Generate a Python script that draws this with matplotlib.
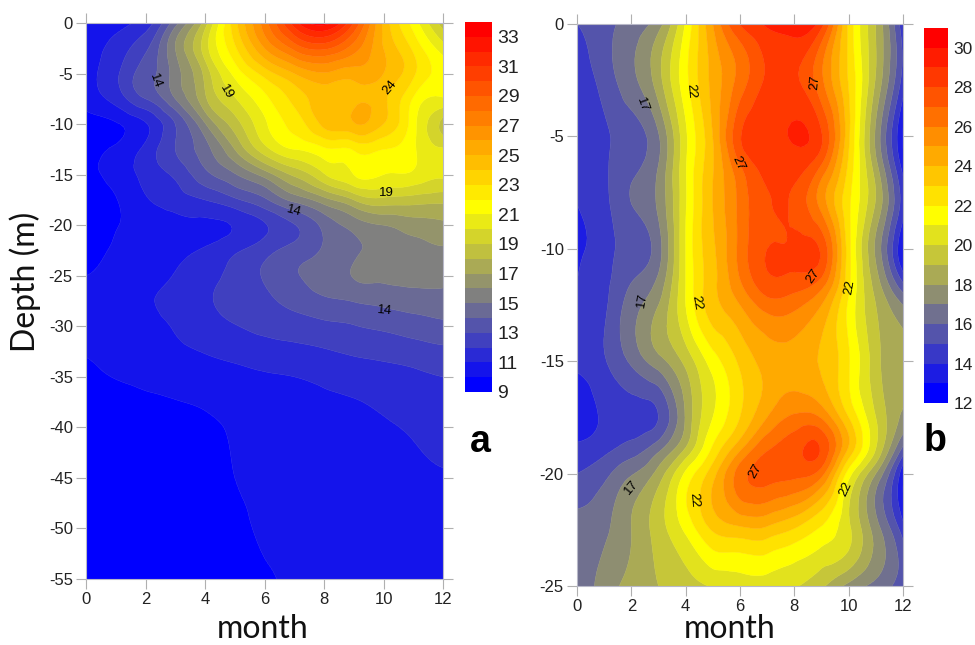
import numpy as np
import matplotlib
matplotlib.use("Agg")
import matplotlib.pyplot as plt
import matplotlib.tri as mtri
from matplotlib.colors import LinearSegmentedColormap

plt.rcParams['font.family'] = ['Liberation Sans', 'DejaVu Sans']
plt.rcParams['axes.unicode_minus'] = False

months = [0, 1, 2, 3, 4, 5, 6, 7, 8, 9, 10, 11, 12]

# panel a, temperature, one row per depth
depth_a = [0, -2.5, -5, -7.5, -10, -12.5, -15, -17.5, -20, -22.5, -25, -27.5,
           -30, -32.5, -35, -37.5, -40, -45, -50, -55]
temp_a = [
    [10.1, 10.6, 11.5, 14.6, 18.5, 23.6, 27.5, 31.5, 33.4, 30.0, 24.8, 21.6, 18.5],
    [10.4, 11.4, 12.8, 16.0, 19.5, 22.8, 26.0, 28.3, 29.2, 27.5, 25.0, 22.8, 20.5],
    [10.6, 11.8, 13.5, 15.5, 18.3, 21.3, 23.4, 25.0, 25.9, 25.5, 25.0, 23.2, 21.5],
    [10.3, 11.4, 13.0, 15.0, 17.8, 19.9, 21.7, 23.3, 24.5, 24.6, 24.2, 21.9, 20.9],
    [9.8, 9.9, 10.9, 13.0, 15.9, 18.5, 20.8, 22.4, 24.3, 24.9, 24.0, 21.4, 18.6],
    [9.7, 10.2, 11.3, 13.0, 14.6, 17.0, 19.6, 21.0, 21.8, 22.1, 22.0, 21.2, 20.1],
    [9.7, 10.4, 11.3, 12.2, 13.7, 14.9, 16.4, 18.2, 19.9, 21.0, 21.0, 20.8, 20.2],
    [9.6, 9.95, 10.9, 11.5, 12.0, 12.8, 13.8, 15.3, 16.6, 18.0, 18.7, 18.5, 18.3],
    [9.6, 9.95, 10.3, 10.6, 10.8, 11.1, 11.9, 12.95, 14.3, 15.4, 16.0, 16.5, 16.8],
    [9.8, 10.1, 10.4, 10.7, 11.1, 11.8, 12.6, 13.4, 14.15, 14.8, 15.3, 15.6, 15.85],
    [10.0, 10.3, 10.75, 11.05, 11.65, 12.35, 13.1, 13.9, 14.5, 15.05, 15.2, 15.3, 15.3],
    [10.3, 10.55, 10.9, 11.25, 11.85, 12.35, 12.75, 13.35, 13.8, 14.05, 14.3, 14.5, 14.6],
    [10.25, 10.45, 10.75, 11.07, 11.55, 11.95, 12.3, 12.5, 12.75, 12.95, 13.2, 13.5, 13.75],
    [10.05, 10.25, 10.5, 10.8, 11.05, 11.3, 11.5, 11.7, 11.9, 12.15, 12.3, 12.5, 12.75],
    [9.8, 10.03, 10.2, 10.35, 10.5, 10.7, 10.9, 11.0, 11.2, 11.4, 11.6, 11.8, 12.0],
    [9.6, 9.7, 9.85, 9.97, 10.1, 10.3, 10.5, 10.65, 10.8, 10.95, 11.15, 11.4, 11.6],
    [9.4, 9.5, 9.6, 9.72, 9.85, 10.1, 10.3, 10.4, 10.5, 10.7, 10.9, 11.1, 11.4],
    [9.2, 9.25, 9.3, 9.4, 9.7, 10.0, 10.15, 10.3, 10.4, 10.5, 10.6, 10.8, 10.9],
    [9.1, 9.15, 9.2, 9.3, 9.5, 9.8, 10.1, 10.2, 10.25, 10.3, 10.4, 10.5, 10.5],
    [9.1, 9.1, 9.1, 9.2, 9.3, 9.6, 9.9, 10.1, 10.15, 10.2, 10.25, 10.3, 10.3],
]

# panel b
depth_b = [0, -2.5, -5, -6.25, -8, -10, -11.5, -12.5, -15, -17.5, -19, -20, -22.5, -25]
temp_b = [
    [15.0, 15.6, 16.4, 17.6, 21.1, 25.0, 28.1, 29.15, 29.6, 28.4, 22.8, 19.0, 14.3],
    [14.3, 15.4, 16.7, 18.6, 21.7, 24.3, 26.4, 28.2, 28.2, 26.2, 22.9, 18.9, 14.6],
    [14.0, 14.8, 15.6, 16.9, 20.8, 24.0, 27.9, 28.9, 29.1, 28.1, 23.2, 17.8, 12.9],
    [14.0, 14.8, 15.8, 17.0, 20.9, 23.9, 27.0, 28.4, 28.5, 27.0, 22.8, 18.3, 13.5],
    [14.0, 14.7, 16.0, 17.2, 20.9, 24.0, 26.3, 27.9, 27.8, 25.6, 22.2, 18.9, 14.5],
    [13.9, 14.5, 15.5, 16.6, 21.0, 23.8, 26.3, 28.0, 28.2, 27.8, 22.4, 17.8, 13.0],
    [14.0, 14.7, 16.0, 17.3, 21.0, 23.7, 25.9, 27.7, 27.6, 26.6, 22.3, 18.5, 15.0],
    [14.1, 14.8, 16.5, 18.0, 21.0, 23.6, 25.0, 26.5, 26.3, 25.0, 21.8, 19.0, 17.0],
    [14.2, 14.9, 16.2, 17.6, 19.3, 21.5, 23.2, 24.4, 24.6, 23.9, 22.1, 19.4, 18.3],
    [13.5, 14.2, 14.6, 15.0, 18.1, 21.0, 23.0, 25.0, 26.2, 25.9, 23.0, 20.0, 17.8],
    [14.3, 14.8, 15.55, 16.9, 19.3, 22.3, 25.0, 27.0, 27.7, 27.9, 23.7, 19.9, 15.5],
    [15.0, 15.7, 16.9, 18.4, 21.2, 23.6, 26.5, 27.4, 27.3, 26.4, 21.5, 18.0, 13.3],
    [16.3, 16.8, 18.0, 19.5, 21.2, 23.1, 23.7, 23.7, 22.9, 21.8, 20.2, 17.5, 14.5],
    [16.0, 17.5, 18.3, 19.0, 19.6, 20.1, 20.5, 20.5, 20.1, 19.2, 17.7, 16.7, 15.5],
]

levels_a = list(range(9, 35))
levels_b = list(range(12, 32))
cbar_ticks_a = [9, 11, 13, 15, 17, 19, 21, 23, 25, 27, 29, 31, 33]
cbar_ticks_b = [12, 14, 16, 18, 20, 22, 24, 26, 28, 30]
yticks_a = [0, -5, -10, -15, -20, -25, -30, -35, -40, -45, -50, -55]
yticks_b = [0, -5, -10, -15, -20, -25]
xticks = [0, 2, 4, 6, 8, 10, 12]

# inline labels: text, month, depth, rotation
labels_a = [("14", 2.33, -5.7, -70), ("19", 4.72, -6.8, -60), ("24", 10.2, -6.4, 50),
            ("19", 10.1, -16.8, 0), ("14", 7.0, -18.6, -15), ("14", 10.05, -28.5, -5)]
labels_b = [("17", 2.4, -3.6, -70), ("22", 4.2, -3.0, -85), ("27", 8.75, -2.6, 85),
            ("27", 5.95, -6.2, -65), ("17", 2.4, -12.3, 80), ("22", 4.4, -12.4, -80),
            ("27", 8.7, -11.2, 55), ("22", 10.05, -11.7, 80), ("17", 2.0, -20.6, 50),
            ("22", 4.3, -21.2, -85), ("27", 6.55, -19.9, 60), ("22", 9.9, -20.7, 65)]

W, H = 975, 645
cmap = LinearSegmentedColormap.from_list(
    "bgyr", [(0, (0, 0, 1)), (0.25, (0.5, 0.5, 0.5)), (0.5, (1, 1, 0)), (1, (1, 0, 0))])


def box(x0, y0, x1, y1):
    return [x0 / W, 1 - y1 / H, (x1 - x0) / W, (y1 - y0) / H]


def panel(fig, pos, cpos, depth, temp, levels, yticks, cticks, labels, letter, letter_xy, csize):
    ax = fig.add_axes(box(*pos))
    n = len(levels) - 1
    cols = cmap(np.linspace(0, 1, n))
    mx, my = np.meshgrid(months, depth)
    tri = mtri.Triangulation(mx.ravel(), my.ravel())
    # cubic refinement so the bands come out round, as the gridded original
    fine, zfine = mtri.UniformTriRefiner(tri).refine_field(np.array(temp).ravel(), subdiv=3)
    zfine = np.clip(zfine, levels[0] + 0.01, levels[-1] - 0.01)
    cf = ax.tricontourf(fine, zfine, levels=levels, colors=cols, antialiased=True)
    cf.set_edgecolor("face")
    cf.set_linewidth(0.3)
    ax.set_xlim(0, 12)
    ax.set_ylim(min(depth), 0)
    ax.set_xticks(xticks)
    ax.set_yticks(yticks)
    ax.tick_params(axis="both", direction="out", length=7, width=0.8, color="#b0b0b0",
                   labelsize=12, labelcolor="#222222", top=True, right=True, pad=2.5)
    for s in ax.spines.values():
        s.set_color("#b8b8c8")
        s.set_linewidth(0.8)
    for txt, m, d, rot in labels:
        ax.text(m, d, txt, fontsize=9.5, rotation=rot, ha="center", va="center", color="black")

    cax = fig.add_axes(box(*cpos))
    cb = fig.colorbar(cf, cax=cax, ticks=cticks, spacing="proportional")
    cb.outline.set_visible(False)
    cax.tick_params(length=0, labelsize=csize, labelcolor="#222222", pad=4)
    fig.text(letter_xy[0] / W, 1 - letter_xy[1] / H, letter, fontsize=27, fontweight="bold",
             ha="center", va="center", color="black")
    return ax


fig = plt.figure(figsize=(W / 100, H / 100), dpi=100)

ax1 = panel(fig, (86, 23, 443, 579), (465, 22, 492, 392), depth_a, temp_a, levels_a,
            yticks_a, cbar_ticks_a, labels_a, "a", (480, 442), 14)
ax2 = panel(fig, (577, 24, 903, 586), (924, 28, 948, 403), depth_b, temp_b, levels_b,
            yticks_b, cbar_ticks_b, labels_b, "b", (935, 441), 12.5)

lab = dict(family=['Lato', 'DejaVu Sans'], fontsize=23, color="#111111")
fig.text(263 / W, 1 - 638 / H, "month", ha="center", va="baseline", **lab)
fig.text(730 / W, 1 - 638 / H, "month", ha="center", va="baseline", **lab)
fig.text(25 / W, 1 - 282 / H, "Depth (m)", ha="center", va="center", rotation=90, **lab)

fig.savefig("out.png", dpi=100)
